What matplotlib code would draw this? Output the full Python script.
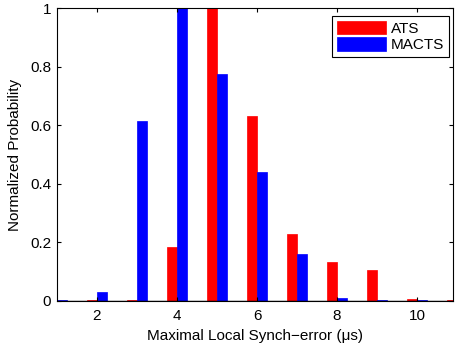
import numpy as np
import matplotlib
matplotlib.use('Agg')
import matplotlib.pyplot as plt

plt.rcParams['font.family'] = ['Liberation Sans', 'DejaVu Sans']

# synch-error bins (us)
x = np.arange(1, 12)
ats = [0.0, 0.002, 0.002, 0.184, 1.0, 0.632, 0.230, 0.133, 0.105, 0.006, 0.004]
macts = [0.002, 0.031, 0.615, 1.0, 0.775, 0.44, 0.162, 0.009, 0.002, 0.002, 0.0]

fig = plt.figure(figsize=(4.55, 3.5), dpi=100)
ax = fig.add_axes([0.125, 0.14, 0.871, 0.837])

w = 0.25
ax.bar(x - 0.13, ats, width=w, color='#ff0000', edgecolor='#ff0000', linewidth=0.5, label='ATS')
ax.bar(x + 0.12, macts, width=w, color='#0000ff', edgecolor='#0000ff', linewidth=0.5, label='MACTS')
ax.axhline(0, color='black', linewidth=1.0, zorder=3)

ax.set_xlim(1, 10.9)
ax.set_ylim(0, 1)
ax.set_xticks([2, 4, 6, 8, 10])
ax.set_yticks([0, 0.2, 0.4, 0.6, 0.8, 1])
ax.set_yticklabels(['0', '0.2', '0.4', '0.6', '0.8', '1'])
ax.tick_params(direction='in', top=True, right=True, labelsize=11, length=3)
ax.tick_params(axis='x', pad=6)
ax.tick_params(axis='y', pad=4)
for s in ax.spines.values():
    s.set_linewidth(0.8)

ax.set_xlabel('Maximal Local Synch\u2212error (\u03bcs)', fontsize=11, labelpad=4)
ax.set_ylabel('Normalized Probability', fontsize=11, labelpad=6)

leg = ax.legend(loc='upper right', bbox_to_anchor=(449 / 455, 1 - 16 / 350),
                bbox_transform=fig.transFigure, fontsize=11, fancybox=False,
                edgecolor='black', framealpha=1, handlelength=3.2, handleheight=1.0,
                borderaxespad=0, labelspacing=0.1, handletextpad=0.35, borderpad=0.3)
leg.get_frame().set_linewidth(0.8)

fig.savefig('out.png', dpi=100)
